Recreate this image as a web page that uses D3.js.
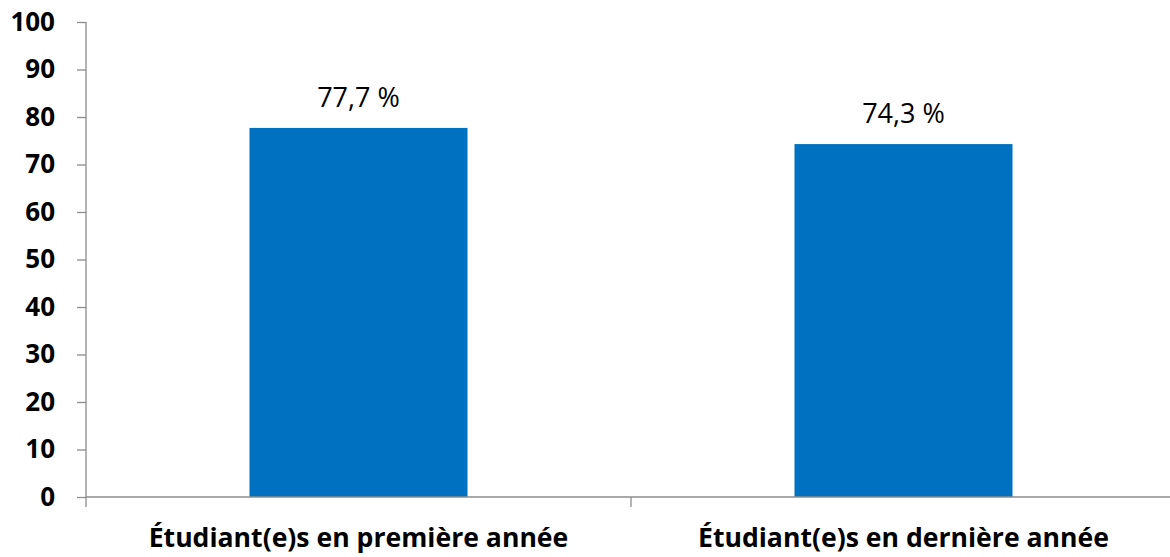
<!DOCTYPE html>
<html>
<head>
<meta charset="utf-8">
<script src="https://cdn.jsdelivr.net/npm/d3@7"></script>
<style>
  body { margin: 0; background: #fff; }
  text { font-family: "Open Sans", sans-serif; }
</style>
</head>
<body>
<div id="canvas"></div>
<script>
const categories = ["Étudiant(e)s en première année", "Étudiant(e)s en dernière année"];
const values = [77.7, 74.3];
const valueLabels = ["77,7 %", "74,3 %"];
const yTicks = [0, 10, 20, 30, 40, 50, 60, 70, 80, 90, 100];

const width = 1170;
const height = 557;
const margin = { top: 22, left: 86, bottom: 60, right: -6 };
const iwidth = width - margin.left - margin.right;
const iheight = height - margin.top - margin.bottom;

const svg = d3.select("#canvas").append("svg")
  .attr("width", width)
  .attr("height", height);

const g = svg.append("g").attr("transform", `translate(${margin.left},${margin.top})`);

const y = d3.scaleLinear().domain([0, 100]).range([iheight, 0]);

const x = d3.scaleBand()
  .domain(categories)
  .range([0, iwidth])
  .paddingInner(0.6)
  .paddingOuter(0.3);

const data = categories.map((c, i) => ({ name: c, value: values[i], label: valueLabels[i] }));

g.selectAll("rect.bar").data(data).enter().append("rect")
  .attr("class", "bar")
  .style("fill", "#0070c0")
  .attr("x", d => x(d.name))
  .attr("y", d => y(d.value))
  .attr("width", x.bandwidth())
  .attr("height", d => iheight - y(d.value));

g.selectAll("text.val").data(data).enter().append("text")
  .attr("class", "val")
  .attr("x", d => x(d.name) + x.bandwidth() / 2)
  .attr("y", d => y(d.value) - 21)
  .attr("text-anchor", "middle")
  .style("font-size", "27px")
  .style("fill", "#000")
  .text(d => d.label);

// y axis
const yAxis = g.append("g")
  .call(d3.axisLeft(y).tickValues(yTicks).tickSize(9).tickPadding(22));
yAxis.selectAll("line, path").attr("stroke", "#8c8c8c").attr("stroke-width", 1.3);
yAxis.select(".domain").attr("d", `M0,0V${iheight}`);
yAxis.selectAll("text")
  .style("font-size", "26px")
  .style("font-weight", "bold")
  .style("fill", "#000");

// x axis
const xAxis = g.append("g")
  .attr("transform", `translate(0,${iheight})`);
xAxis.append("line")
  .attr("x1", 0).attr("x2", iwidth)
  .attr("stroke", "#8c8c8c").attr("stroke-width", 1.3);
const boundaries = d3.range(categories.length).map(i => x(categories[i]) - x.step() * x.paddingOuter());
xAxis.selectAll("line.tk").data(boundaries).enter().append("line")
  .attr("class", "tk")
  .attr("x1", d => d).attr("x2", d => d)
  .attr("y1", 0).attr("y2", 10)
  .attr("stroke", "#8c8c8c").attr("stroke-width", 1.3);
xAxis.selectAll("text.cat").data(categories).enter().append("text")
  .attr("class", "cat")
  .attr("x", d => x(d) + x.bandwidth() / 2)
  .attr("y", 50)
  .attr("text-anchor", "middle")
  .style("font-size", "26.6px")
  .style("font-weight", "bold")
  .style("fill", "#000")
  .text(d => d);
</script>
</body>
</html>
